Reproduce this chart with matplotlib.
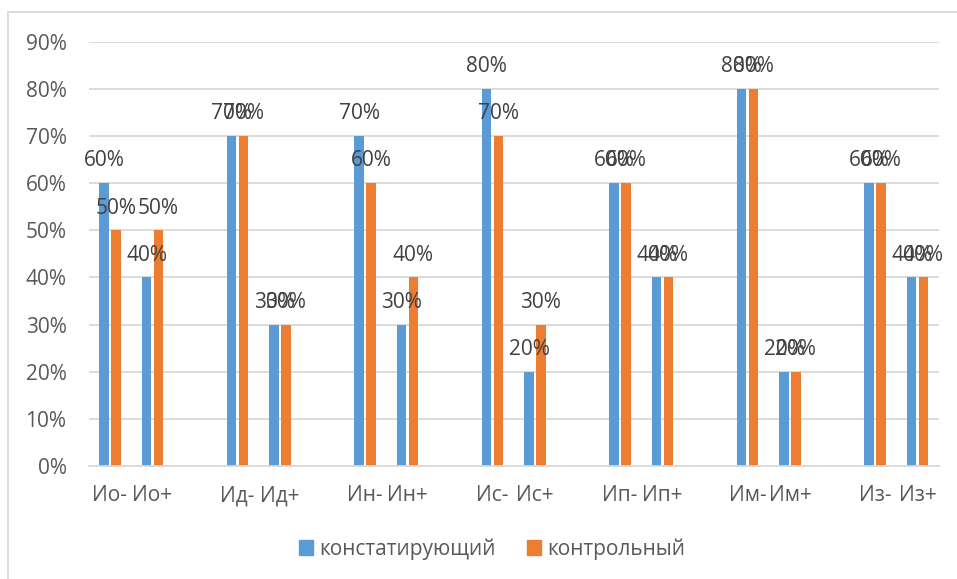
import numpy as np
import matplotlib
matplotlib.use("Agg")
import matplotlib.pyplot as plt
from matplotlib.patches import Patch, Rectangle

plt.rcParams['font.family'] = ['Open Sans', 'DejaVu Sans']

# Данные: категории (пары "-"/"+") и две серии
categories = ['Ио-', 'Ио+', 'Ид-', 'Ид+', 'Ин-', 'Ин+', 'Ис-', 'Ис+',
              'Ип-', 'Ип+', 'Им-', 'Им+', 'Из-', 'Из+']
konst = [0.6, 0.4, 0.7, 0.3, 0.7, 0.3, 0.8, 0.2, 0.6, 0.4, 0.8, 0.2, 0.6, 0.4]
kontr = [0.5, 0.5, 0.7, 0.3, 0.6, 0.4, 0.7, 0.3, 0.6, 0.4, 0.8, 0.2, 0.6, 0.4]
series_names = ['констатирующий', 'контрольный']

blue = '#5B9BD5'
orange = '#ED7D31'
grid_c = '#D9D9D9'
txt_c = '#595959'
lbl_c = '#404040'

# позиции: пустая категория между парами (как в Excel)
x = np.array([3 * (i // 2) + (i % 2) for i in range(len(categories))])

fig = plt.figure(figsize=(9.57, 5.79), dpi=100)
ax = fig.add_axes([88.75 / 957, (579 - 466) / 579, 850 / 957, (466 - 41.7) / 579])

bw = 0.223
off = 0.138
ax.bar(x - off, konst, width=bw, color=blue, zorder=2)
ax.bar(x + off, kontr, width=bw, color=orange, zorder=2)

for xi, v in zip(x, konst):
    ax.annotate(f'{v:.0%}', (xi - off, v), xytext=(0, 12), textcoords='offset points',
                ha='center', va='baseline', fontsize=15, color=lbl_c, zorder=3)
for xi, v in zip(x, kontr):
    ax.annotate(f'{v:.0%}', (xi + off, v), xytext=(0, 12), textcoords='offset points',
                ha='center', va='baseline', fontsize=15, color=lbl_c, zorder=3)

ax.set_xlim(-0.5, 19.5)
ax.set_ylim(0, 0.9)
ax.set_yticks(np.arange(0, 0.91, 0.1))
ax.set_yticklabels([f'{t:.0%}' for t in np.arange(0, 0.91, 0.1)])
ax.set_xticks(x)
ax.set_xticklabels(categories)
ax.tick_params(axis='y', length=0, pad=16, labelsize=15, labelcolor=txt_c)
ax.tick_params(axis='x', length=0, pad=14, labelsize=15, labelcolor=txt_c)
ax.grid(axis='y', color=grid_c, linewidth=1.3, zorder=0)
ax.set_axisbelow(True)
for s in ax.spines.values():
    s.set_visible(False)
ax.spines['bottom'].set_visible(True)
ax.spines['bottom'].set_color(grid_c)
ax.spines['bottom'].set_linewidth(1.3)

handles = [Patch(color=blue), Patch(color=orange)]
fig.legend(handles, series_names, loc='center', bbox_to_anchor=(492 / 957, 1 - 549 / 579),
           ncol=2, frameon=False, fontsize=15, labelcolor=txt_c,
           handlelength=0.68, handleheight=0.68, handletextpad=0.3, columnspacing=1.5)

# рамка области диаграммы
fig.patches.append(Rectangle((8 / 957, -0.1), 2, 1.1 - 12 / 579, transform=fig.transFigure,
                             fill=False, edgecolor=grid_c, linewidth=1.3))

fig.savefig('out.png', dpi=100)
